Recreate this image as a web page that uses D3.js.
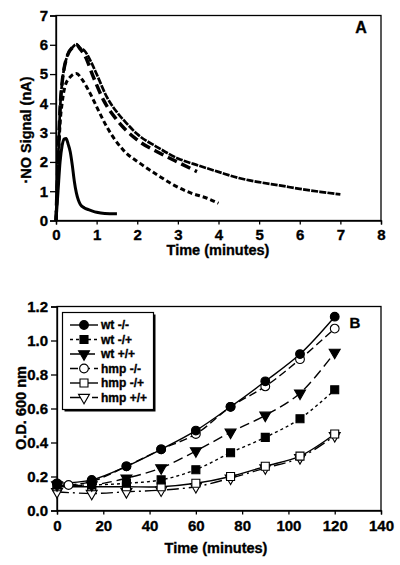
<!DOCTYPE html>
<html><head><meta charset="utf-8">
<script src="https://cdn.jsdelivr.net/npm/d3@7"></script>
<style>
body{margin:0;background:#fff;}
svg text{font-family:"Liberation Sans",Arial,sans-serif;font-weight:bold;fill:#000;stroke:#000;stroke-width:0.35px;}
</style></head>
<body><svg id="c" width="400" height="565"></svg>
<script>
// ---------- Panel A data ----------
const aXTicks = [0,1,2,3,4,5,6,7,8];
const aYTicks = [0,1,2,3,4,5,6,7];
const solidT = [0,0.05,0.1,0.15,0.2,0.25,0.3,0.35,0.4,0.45,0.5,0.55,0.6,0.7,0.8,0.9,1.0,1.2,1.5];
const solidV = [0,1.0,2.0,2.55,2.78,2.8,2.6,2.35,1.9,1.35,0.95,0.7,0.55,0.43,0.37,0.32,0.28,0.24,0.23];
const dottedT = [0,0.05,0.1,0.15,0.2,0.25,0.3,0.4,0.5,0.6,0.7,0.85,1.0,1.25,1.5,1.75,2.0,2.5,3.0,3.5,4.0,4.5,5.0,5.5,6.0,6.5,7.0];
const dottedV = [0,2.0,3.8,4.7,5.2,5.5,5.7,5.9,6.02,5.88,5.8,5.45,5.0,4.22,3.7,3.3,2.95,2.5,2.12,1.88,1.66,1.45,1.31,1.2,1.08,0.98,0.89];
const longDashT = [0,0.05,0.1,0.15,0.2,0.25,0.3,0.4,0.5,0.6,0.72,0.92,1.17,1.5,2.0,2.57,3.06,3.47];
const longDashV = [0,2.0,3.8,4.7,5.2,5.5,5.7,5.9,6.0,5.85,5.6,4.9,4.11,3.43,2.75,2.29,1.95,1.67];
const shortDashT = [0,0.05,0.1,0.15,0.22,0.35,0.5,0.65,0.84,1.04,1.25,1.66,2.07,2.5,2.9,3.3,3.72,4.0];
const shortDashV = [0,1.8,3.3,4.0,4.57,4.9,5.02,4.8,4.34,3.77,3.2,2.4,1.95,1.55,1.21,0.95,0.76,0.59];

// ---------- Panel B data ----------
const bXTicks = [0,20,40,60,80,100,120,140];
const bYTicks = [0,0.2,0.4,0.6,0.8,1.0,1.2];
const times = [0,15,30,45,60,75,90,105,120];
const hmpMMTimes = [5,15,30,45,60,75,90,105,120];
const seriesNames = ["wt -/-","wt -/+","wt +/+","hmp -/-","hmp -/+","hmp +/+"];
const wtMM   = [0.16,0.18,0.26,0.36,0.47,0.61,0.76,0.92,1.14];
const wtMP   = [0.15,0.15,0.16,0.18,0.24,0.34,0.43,0.54,0.71];
const wtPP   = [0.15,0.15,0.19,0.25,0.35,0.46,0.56,0.69,0.93];
const hmpMM  = [0.15,0.17,0.26,0.36,0.45,0.61,0.73,0.89,1.07];
const hmpMP  = [0.14,0.14,0.14,0.14,0.16,0.20,0.26,0.32,0.45];
const hmpPP  = [0.11,0.10,0.11,0.12,0.14,0.19,0.25,0.31,0.44];

const svg = d3.select("#c");

function styleAxis(a){
  a.selectAll("path").attr("stroke","#000").attr("stroke-width",1.3);
  a.selectAll("line").attr("stroke","#000").attr("stroke-width",1.3);
  a.selectAll("text").style("font-size","15px").style("font-family","Liberation Sans, Arial").style("font-weight","bold");
}

// ================= Panel A =================
const xA = d3.scaleLinear().domain([0,8]).range([56,381]);
const yA = d3.scaleLinear().domain([0,7]).range([220.5,15.5]);
const gA = svg.append("g");
gA.append("rect").attr("x",xA(0)).attr("y",yA(7)).attr("width",xA(8)-xA(0)).attr("height",yA(0)-yA(7))
  .attr("fill","none").attr("stroke","#000").attr("stroke-width",1.3);
const axA = gA.append("g").attr("transform",`translate(0,${yA(0)})`)
  .call(d3.axisBottom(xA).tickValues(aXTicks).tickSize(4).tickPadding(5).tickFormat(d3.format("d")));
const ayA = gA.append("g").attr("transform",`translate(${xA(0)},0)`)
  .call(d3.axisLeft(yA).tickValues(aYTicks).tickSize(6).tickPadding(2).tickFormat(d3.format("d")));
styleAxis(axA); styleAxis(ayA);

const lineA = d3.line().x(d=>xA(d[0])).y(d=>yA(d[1])).curve(d3.curveMonotoneX);
const curvesA = [
  {t:shortDashT,v:shortDashV,dash:"5,3",w:3},
  {t:longDashT,v:longDashV,dash:"10,5",w:3.5},
  {t:dottedT,v:dottedV,dash:"7,1.2",w:2.7},
  {t:solidT,v:solidV,dash:null,w:3}
];
curvesA.forEach(c=>{
  gA.append("path").datum(c.t.map((t,i)=>[t,c.v[i]])).attr("d",lineA)
    .attr("fill","none").attr("stroke","#000").attr("stroke-width",c.w)
    .attr("stroke-dasharray",c.dash);
});
gA.append("text").attr("x",218).attr("y",255).attr("text-anchor","middle").style("font-size","14.5px").text("Time (minutes)");
gA.append("text").attr("transform","translate(31,130) rotate(-90)").attr("text-anchor","middle").style("font-size","14.5px").text("·NO Signal (nA)");
gA.append("text").attr("x",361).attr("y",33).attr("text-anchor","middle").style("font-size","16px").text("A");

// ================= Panel B =================
const xB = d3.scaleLinear().domain([0,140]).range([57,381]);
const yB = d3.scaleLinear().domain([0,1.2]).range([510.5,306.5]);
const gB = svg.append("g");
gB.append("rect").attr("x",xB(0)).attr("y",yB(1.2)).attr("width",xB(140)-xB(0)).attr("height",yB(0)-yB(1.2))
  .attr("fill","none").attr("stroke","#000").attr("stroke-width",1.3);
const axB = gB.append("g").attr("transform",`translate(0,${yB(0)})`)
  .call(d3.axisBottom(xB).tickValues(bXTicks).tickSize(4).tickPadding(6).tickFormat(d3.format("d")));
const ayB = gB.append("g").attr("transform",`translate(${xB(0)},0)`)
  .call(d3.axisLeft(yB).tickValues(bYTicks).tickSize(6).tickPadding(3).tickFormat(d3.format(".1f")));
styleAxis(axB); styleAxis(ayB);

const sym = {
  circle: d3.symbol().type(d3.symbolCircle).size(60),
  square: d3.symbol().type(d3.symbolSquare).size(64),
  tri: d3.symbol().type(d3.symbolTriangle).size(52)
};
const seriesB = [
  {name:seriesNames[0],x:times,v:wtMM,dash:null,m:"circle",fill:"#000"},
  {name:seriesNames[1],x:times,v:wtMP,dash:"3,3",m:"square",fill:"#000"},
  {name:seriesNames[2],x:times,v:wtPP,dash:"10,5",m:"tri",fill:"#000"},
  {name:seriesNames[3],x:hmpMMTimes,v:hmpMM,dash:"8,4",m:"circle",fill:"#fff"},
  {name:seriesNames[4],x:times,v:hmpMP,dash:null,m:"square",fill:"#fff"},
  {name:seriesNames[5],x:times,v:hmpPP,dash:"12,4,2,4",m:"tri",fill:"#fff"}
];
const lineB = d3.line().x(d=>xB(d[0])).y(d=>yB(d[1])).curve(d3.curveCatmullRom.alpha(0.5));
seriesB.forEach(s=>{
  gB.append("path").datum(s.x.map((t,i)=>[t,s.v[i]])).attr("d",lineB)
    .attr("fill","none").attr("stroke","#000").attr("stroke-width",1.4).attr("stroke-dasharray",s.dash);
});
function marker(g,s,x,y){
  g.append("path").attr("d",sym[s.m]()).attr("transform",`translate(${x},${y})${s.m==="tri"?" rotate(180)":""}`)
    .attr("fill",s.fill).attr("stroke","#000").attr("stroke-width",1.1);
}
seriesB.slice().reverse().forEach(s=>{
  s.x.forEach((t,i)=>marker(gB,s,xB(t),yB(s.v[i])));
});

// legend
const lg = gB.append("g");
lg.append("rect").attr("x",64.5).attr("y",314.5).attr("width",91).attr("height",97).attr("fill","#000");
lg.append("rect").attr("x",62.5).attr("y",312.5).attr("width",91).attr("height",97).attr("fill","#fff").attr("stroke","#000").attr("stroke-width",1.2);
seriesB.forEach((s,i)=>{
  const y = 325 + i*14.5;
  lg.append("line").attr("x1",70).attr("x2",98).attr("y1",y).attr("y2",y)
    .attr("stroke","#000").attr("stroke-width",1.4).attr("stroke-dasharray",s.dash);
  marker(lg,s,84,y);
  lg.append("text").attr("x",101).attr("y",y+4.3).style("font-size","12px").text(s.name);
});

gB.append("text").attr("x",216).attr("y",553).attr("text-anchor","middle").style("font-size","14.5px").text("Time (minutes)");
gB.append("text").attr("transform","translate(26,408) rotate(-90)").attr("text-anchor","middle").style("font-size","14.5px").text("O.D. 600 nm");
gB.append("text").attr("x",355).attr("y",328).attr("text-anchor","middle").style("font-size","15px").text("B");
</script></body></html>
